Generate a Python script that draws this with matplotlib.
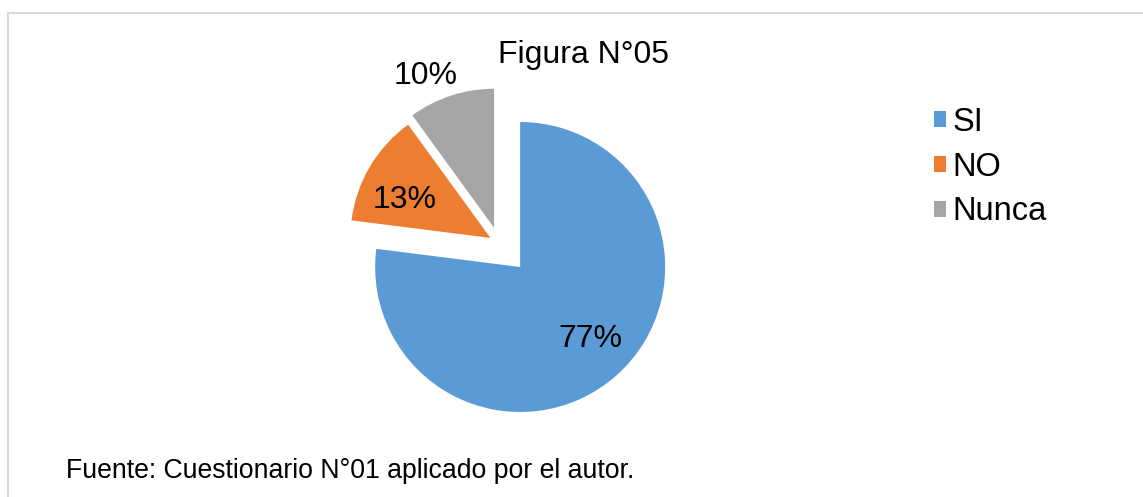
import matplotlib.pyplot as plt
from matplotlib.patches import Rectangle
import math

categorias = ["SI", "NO", "Nunca"]
porcentajes = [77, 13, 10]
colores = ["#5B9BD5", "#ED7D31", "#A5A5A5"]
titulo = "Figura N°05"
fuente = "Fuente: Cuestionario N°01 aplicado por el autor."

plt.rcParams['font.family'] = ['Liberation Sans', 'DejaVu Sans']

W, H = 1143, 497
fig = plt.figure(figsize=(W / 100, H / 100), dpi=100)
ax = fig.add_axes([0, 0, 1, 1])

# el pie se dibuja en coordenadas de pixel (y hacia arriba)
wedges, texts, autotexts = ax.pie(
    porcentajes, colors=colores, startangle=90, counterclock=False,
    center=(499, H - 243), radius=145, explode=[32, 10, 16],
    autopct='%1.0f%%', pctdistance=0.66,
    textprops={'fontsize': 23, 'color': 'black'})

# los sectores separados se ven algo mas pequenos
wedges[1].set_radius(140)
wedges[2].set_radius(139)

# reubicar etiquetas: (giro en grados, distancia relativa al radio)
ajustes = [(4.4, 0.68), (4.6, 0.68), (5.7, 1.22)]
for w, t, (da, d) in zip(wedges, autotexts, ajustes):
    tm = math.radians((w.theta1 + w.theta2) / 2 + da)
    t.set_position((w.center[0] + d * w.r * math.cos(tm),
                    w.center[1] + d * w.r * math.sin(tm)))
    t.set_va('center_baseline')

ax.set_xlim(0, W)
ax.set_ylim(0, H)
ax.set_aspect('equal')
ax.axis('off')

ax.add_patch(Rectangle((8, -20), W + 20, H - 13 + 20, fill=False,
                       edgecolor='#D9D9D9', lw=1.5))

ax.text(583, H - 63, titulo, fontsize=23, ha='center', va='baseline')

ax.legend(wedges, categorias, loc='upper left',
          bbox_to_anchor=(934, H - 107), bbox_transform=ax.transData,
          frameon=False, fontsize=23.5, handlelength=0.36, handleheight=0.36,
          handletextpad=0.2, labelspacing=0.42, borderpad=0, borderaxespad=0)

ax.text(66, H - 478, fuente, fontsize=19.2, ha='left', va='baseline')

fig.savefig('out.png', dpi=100)
